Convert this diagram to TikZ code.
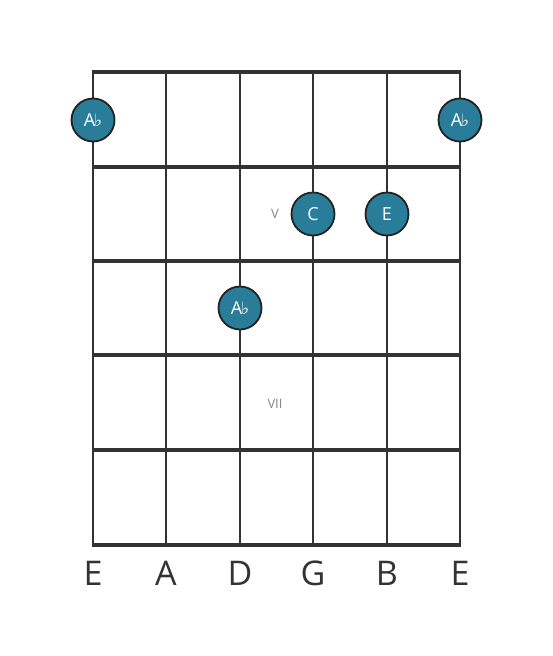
\documentclass[tikz,border=0pt]{standalone}
\usepackage{fontspec}
\setmainfont{Open Sans}
\newfontfamily\symfont{DejaVu Sans}
\definecolor{gridc}{HTML}{333333}
\definecolor{dotc}{HTML}{2A7D99}
\definecolor{dotb}{HTML}{222222}
\definecolor{posc}{HTML}{888888}
\newcommand{\flt}{{\symfont\fontsize{17}{17}\selectfont\raisebox{0.3pt}{♭}}}
\begin{document}
\begin{tikzpicture}[x=1pt,y=-1pt,
  fretline/.style={draw=gridc,line width=4.2pt},
  stringline/.style={draw=gridc,line width=2.6pt},
  notedot/.style={circle,fill=dotc,draw=dotb,line width=1.8pt,minimum size=43pt,inner sep=0pt,text=white,font=\fontsize{18}{18}\selectfont},
  poslabel/.style={text=posc,font=\fontsize{13}{13}\selectfont},
  strlabel/.style={text=gridc,font=\fontsize{34}{34}\selectfont}]
\useasboundingbox[fill=white] (0,0) rectangle (553,656);
% strings
\foreach \x [count=\i] in {93,166,240,313,387,460}{
  \coordinate (st\i) at (\x,72);
  \coordinate (sb\i) at (\x,545);
  \draw[stringline] (st\i) -- (sb\i);
}
% frets
\foreach \y [count=\j] in {72,167,261,355,450,545}{
  \coordinate (fl\j) at (91.7,\y);
  \coordinate (fr\j) at (461.3,\y);
  \draw[fretline] (fl\j) -- (fr\j);
}
% position labels
\node[poslabel] (p5) at (275,214) {V};
\node[poslabel] (p7) at (275,404) {VII};
% dots
\node[notedot] (n1) at (93,120) {A\kern-1pt\flt};
\node[notedot] (n6) at (460,120) {A\kern-1pt\flt};
\node[notedot] (n4) at (313,214) {C};
\node[notedot] (n5) at (387,214) {E};
\node[notedot] (n3) at (240,308) {A\kern-1pt\flt};
% string labels
\foreach \x/\t [count=\i] in {93/E,166/A,240/D,313/G,387/B,460/E}{
  \node[strlabel] (l\i) at (\x,573) {\t};
}
\end{tikzpicture}
\end{document}
